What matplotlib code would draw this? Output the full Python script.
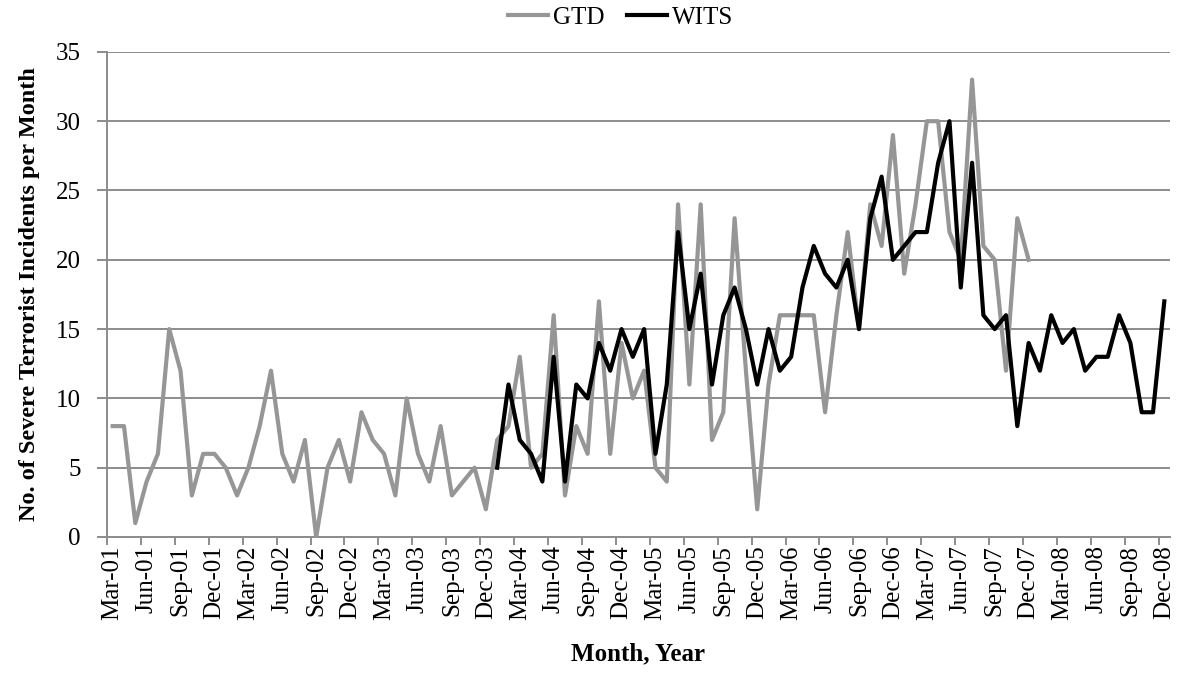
import matplotlib.pyplot as plt
import numpy as np
import pandas as pd

plt.rcParams['font.family'] = ['Liberation Serif', 'DejaVu Serif']

# Months shown on the category axis (Mar-01 .. Dec-08)
months = pd.date_range('2001-03-01', '2008-12-01', freq='MS')
month_labels = [d.strftime('%b-%y') for d in months]

# GTD: Mar-01 .. Dec-07
gtd = [8, 8, 1, 4, 6, 15, 12, 3, 6, 6,
       5, 3, 5, 8, 12, 6, 4, 7, 0, 5, 7, 4,
       9, 7, 6, 3, 10, 6, 4, 8, 3, 4, 5, 2,
       7, 8, 13, 5, 6, 16, 3, 8, 6, 17, 6, 14,
       10, 12, 5, 4, 24, 11, 24, 7, 9, 23, 12, 2,
       11, 16, 16, 16, 16, 9, 16, 22, 15, 24, 21, 29,
       19, 24, 30, 30, 22, 20, 33, 21, 20, 12, 23, 20]

# WITS: Jan-04 .. Dec-08
wits_start = 'Jan-04'
wits = [5, 11, 7, 6, 4, 13, 4, 11, 10, 14, 12, 15,
        13, 15, 6, 11, 22, 15, 19, 11, 16, 18, 15, 11,
        15, 12, 13, 18, 21, 19, 18, 20, 15, 23, 26, 20,
        21, 22, 22, 27, 30, 18, 27, 16, 15, 16, 8, 14,
        12, 16, 14, 15, 12, 13, 13, 16, 14, 9, 9, 17]

grey = '#8c8c8c'
fs = 18

fig = plt.figure(figsize=(11.8, 6.92), dpi=100)
ax = fig.add_axes([0.0907, 0.224, 0.9008, 0.701])

x_gtd = np.arange(len(gtd))
i0 = month_labels.index(wits_start)
x_wits = np.arange(i0, i0 + len(wits))

ax.plot(x_gtd, gtd, color='#969696', lw=3, solid_joinstyle='round', label='GTD', zorder=3)
ax.plot(x_wits, wits, color='black', lw=3, solid_joinstyle='round', label='WITS', zorder=4)

ax.set_xlim(-0.5, len(months) - 0.5)
ax.set_ylim(0, 35)
ax.set_yticks(np.arange(0, 36, 5))
ax.grid(axis='y', color=grey, lw=1.4)
ax.set_axisbelow(True)

# labels every third month, tick marks on category boundaries
ax.set_xticks(np.arange(0, len(months), 3))
ax.set_xticklabels(month_labels[::3], rotation=90, fontsize=fs)
ax.set_xticks(np.arange(-0.5, len(months), 3), minor=True)
ax.tick_params(axis='x', which='major', length=0, pad=6)
ax.tick_params(axis='x', which='minor', length=6, width=1.4, color=grey)
ax.tick_params(axis='y', length=7, width=1.4, color=grey, labelsize=fs, pad=12)

for s in ['top', 'right']:
    ax.spines[s].set_visible(False)
for s in ['left', 'bottom']:
    ax.spines[s].set_color(grey)
    ax.spines[s].set_linewidth(1.4)

ax.set_ylabel('No. of Severe Terrorist Incidents per Month', fontsize=17.5, fontweight='bold', labelpad=11)
ax.set_xlabel('Month, Year', fontsize=fs, fontweight='bold', labelpad=16)

ax.legend(loc='center', bbox_to_anchor=(0.4835, 1.07), ncol=2, frameon=False,
          fontsize=fs, handlelength=1.6, handletextpad=0.2, columnspacing=0.9)

fig.savefig('out.png', dpi=100)
